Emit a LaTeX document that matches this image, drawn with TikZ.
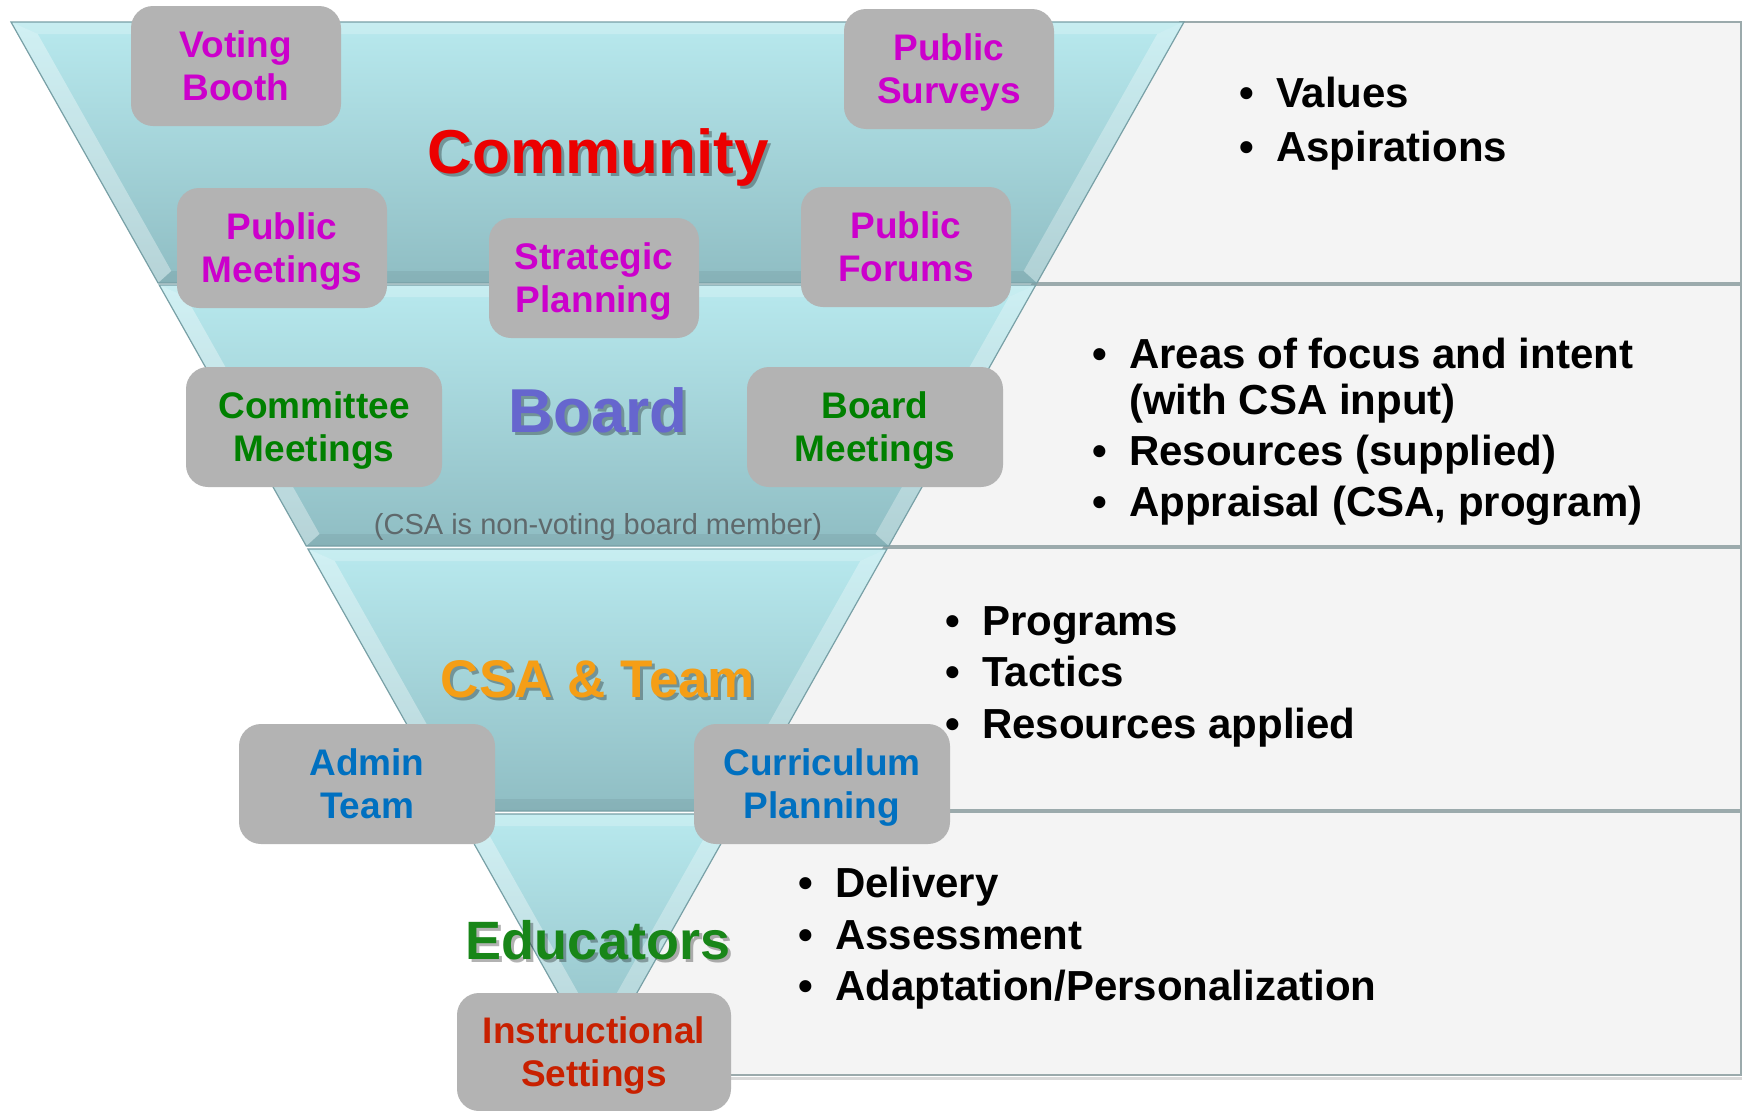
\documentclass[tikz,border=0pt]{standalone}
\usepackage{fontspec}
\setmainfont{Liberation Sans}
\definecolor{segtop}{RGB}{184,233,238}
\definecolor{segbot}{RGB}{143,189,195}
\definecolor{segedge}{RGB}{120,160,166}
\definecolor{panelfill}{RGB}{244,244,244}
\definecolor{panelborder}{RGB}{155,170,172}
\definecolor{boxgray}{RGB}{179,179,179}
\definecolor{magentaT}{RGB}{204,0,204}
\definecolor{greenT}{RGB}{0,128,0}
\definecolor{blueT}{RGB}{0,112,192}
\definecolor{redT}{RGB}{200,32,0}
\definecolor{commRed}{RGB}{236,0,0}
\definecolor{boardBlue}{RGB}{102,102,206}
\definecolor{csaOrange}{RGB}{245,158,22}
\definecolor{eduGreen}{RGB}{24,134,24}
\definecolor{noteGray}{RGB}{95,105,108}
\tikzset{
  declare function={fl(\t)=11+0.5635*(\t-22); fr(\t)=1184-0.5635*(\t-22);},
  panel/.style={fill=panelfill, draw=panelborder, line width=1.8pt},
  gbox/.style={fill=boxgray, rounded corners=22pt, minimum width=210pt, minimum height=120pt,
    align=center, inner sep=0pt, text depth=0pt, font=\bfseries\fontsize{37}{43}\selectfont},
  itm/.style={anchor=base west, inner sep=0pt, font=\bfseries\fontsize{42}{49}\selectfont},
  lbl/.style={anchor=base, inner sep=0pt, font=\bfseries},
  shd/.style={anchor=base, inner sep=0pt, font=\bfseries, text=black, opacity=0.3},
}
\newcommand\fseg[2]{%
  \shade[top color=segtop, bottom color=segbot]
    ({fl(#1)},#1) -- ({fr(#1)},#1) -- ({fr(#2)},#2) -- ({fl(#2)},#2) -- cycle;
  \fill[white, opacity=0.35]
    ({fl(#1)},#1) -- ({fl(#1+12)+20},#1+12) -- ({fl(#2-12)+20},#2-12) -- ({fl(#2)},#2) -- cycle;
  \fill[white, opacity=0.3]
    ({fr(#1)},#1) -- ({fr(#1+12)-20},#1+12) -- ({fr(#2-12)-20},#2-12) -- ({fr(#2)},#2) -- cycle;
  \fill[white, opacity=0.22]
    ({fl(#1)},#1) -- ({fr(#1)},#1) -- ({fr(#1+12)-20},#1+12) -- ({fl(#1+12)+20},#1+12) -- cycle;
  \fill[black, opacity=0.06]
    ({fl(#2)},#2) -- ({fr(#2)},#2) -- ({fr(#2-12)-20},#2-12) -- ({fl(#2-12)+20},#2-12) -- cycle;
  \draw[segedge, line width=1.2pt]
    ({fl(#1)},#1) -- ({fr(#1)},#1) -- ({fr(#2)},#2) -- ({fl(#2)},#2) -- cycle;
}
\newcommand\rpanel[2]{%
  \draw[panel] ({fr(#1)-4},#1) -- (1741,#1) -- (1741,#2) -- ({fr(#2)-4},#2) -- cycle;
}
\begin{document}
\begin{tikzpicture}[x=1pt, y=-1pt]
\useasboundingbox (0,0) rectangle (1743,1111);
\fill[white] (0,0) rectangle (1743,1111);

% right-hand panels
\draw[black, opacity=0.15, line width=3pt] (640,1078) -- (1742,1078);
\rpanel{22}{283}
\rpanel{285}{546}
\rpanel{548}{810}
\rpanel{812}{1075}

% funnel
\fseg{22}{283}
\fseg{285}{546}
\fseg{549}{811}
\fseg{814}{1062}

% funnel labels (with soft shadows)
\node[shd, font=\bfseries\fontsize{62}{70}\selectfont] (commS) at (601,176) {Community};
\node[lbl, text=commRed, font=\bfseries\fontsize{62}{70}\selectfont] (comm) at (598,173) {Community};
\node[shd, font=\bfseries\fontsize{62}{70}\selectfont] (boardS) at (601,435) {Board};
\node[lbl, text=boardBlue, font=\bfseries\fontsize{62}{70}\selectfont] (board) at (598,432) {Board};
\node[anchor=base, inner sep=0pt, text=noteGray, font=\fontsize{29}{32}\selectfont] (note) at (598,534) {(CSA is non-voting board member)};
\node[shd, font=\bfseries\fontsize{53}{60}\selectfont] (csaS) at (601,700) {CSA \& Team};
\node[lbl, text=csaOrange, font=\bfseries\fontsize{53}{60}\selectfont] (csa) at (598,697) {CSA \& Team};
\node[shd, font=\bfseries\fontsize{54}{60}\selectfont] (eduS) at (601,962) {Educators};
\node[lbl, text=eduGreen, font=\bfseries\fontsize{54}{60}\selectfont] (edu) at (598,959) {Educators};

% gray boxes
\node[gbox, text=magentaT] (vb) at (236,66) {Voting\\Booth};
\node[gbox, text=magentaT] (ps) at (949,69) {Public\\Surveys};
\node[gbox, text=magentaT] (pm) at (282,248) {Public\\Meetings};
\node[gbox, text=magentaT] (sp) at (594,278) {Strategic\\Planning};
\node[gbox, text=magentaT] (pf) at (906,247) {Public\\Forums};
\node[gbox, text=greenT, minimum width=256pt] (cm) at (314,427) {Committee\\Meetings};
\node[gbox, text=greenT, minimum width=256pt] (bm) at (875,427) {Board\\Meetings};
\node[gbox, text=blueT, minimum width=256pt] (at) at (367,784) {Admin\\Team};
\node[gbox, text=blueT, minimum width=256pt] (cp) at (822,784) {Curriculum\\Planning};
\node[gbox, text=redT, minimum width=274pt, minimum height=118pt] (is) at (594,1052) {Instructional\\Settings};

% right-hand bullet texts
\node[itm] (r1a) at (1239,107) {\makebox[37pt][l]{•}Values};
\node[itm] (r1b) at (1239,161) {\makebox[37pt][l]{•}Aspirations};

\node[itm] (r2a) at (1092,368) {\makebox[37pt][l]{•}Areas of focus and intent};
\node[itm] (r2b) at (1129,414) {(with CSA input)};
\node[itm] (r2c) at (1092,465) {\makebox[37pt][l]{•}Resources (supplied)};
\node[itm] (r2d) at (1092,516) {\makebox[37pt][l]{•}Appraisal (CSA, program)};

\node[itm] (r3a) at (945,635) {\makebox[37pt][l]{•}Programs};
\node[itm] (r3b) at (945,686) {\makebox[37pt][l]{•}Tactics};
\node[itm] (r3c) at (945,738) {\makebox[37pt][l]{•}Resources applied};

\node[itm] (r4a) at (798,897) {\makebox[37pt][l]{•}Delivery};
\node[itm] (r4b) at (798,949) {\makebox[37pt][l]{•}Assessment};
\node[itm] (r4c) at (798,1000) {\makebox[37pt][l]{•}Adaptation/Personalization};
\end{tikzpicture}
\end{document}
